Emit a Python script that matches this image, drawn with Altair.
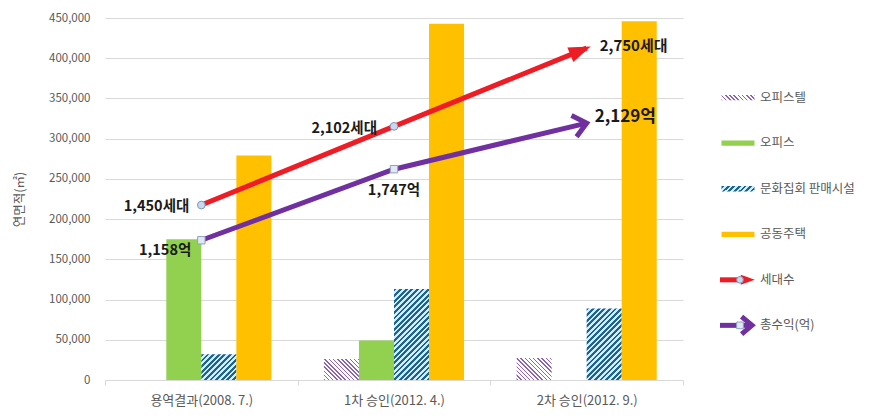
import math
import altair as alt
import pandas as pd

FONT = "Noto Sans CJK KR"

groups = ["용역결과(2008. 7.)", "1차 승인(2012. 4.)", "2차 승인(2012. 9.)"]
series = ["오피스텔", "오피스", "문화집회 판매시설", "공동주택"]
officetel = [0, 26000, 27500]
office = [175000, 49000, 0]
culture = [32000, 113000, 89000]
housing = [279000, 443000, 446000]

households = [1450, 2102, 2750]
household_labels = ["1,450세대", "2,102세대", "2,750세대"]
revenue = [1158, 1747, 2129]
revenue_labels = ["1,158억", "1,747억", "2,129억"]

legend_names = ["오피스텔", "오피스", "문화집회 판매시설", "공동주택", "세대수", "총수익(억)"]

# layout / style
W, H = 578, 362
Y_MAX, Y2_MAX = 450000, 3000
BAR_W = W / 3 / 5.5
RED, PURPLE, GREEN, YELLOW = "#ee1c25", "#7030a0", "#92d050", "#ffc000"
BLUE_LINE, BLUE_BG = "#1f6391", "#cdeefa"
HATCH_PURPLE = "#8e62b8"
GRID = "#d9d9d9"
TXT = "#595959"


def hatch(w, h, period, line, bg, frac, back=False):
    s = (w + h) / (w * w + h * h)
    n = (w + h) / period
    stops = []
    k = 0
    while k < n:
        a = k / n
        b = min((k + frac) / n, 1)
        c = min((k + 1) / n, 1)
        stops += [alt.GradientStop(offset=a, color=line), alt.GradientStop(offset=b, color=line),
                  alt.GradientStop(offset=b, color=bg), alt.GradientStop(offset=c, color=bg)]
        k += 1
    if back:
        return alt.LinearGradient(gradient="linear", stops=stops, x1=0, y1=1, x2=s * w, y2=1 - s * h)
    return alt.LinearGradient(gradient="linear", stops=stops, x1=0, y1=0, x2=s * w, y2=s * h)


def purple_hatch(w, h):
    return hatch(w, h, 4.2, HATCH_PURPLE, "#ffffff", 0.35, back=True)


def blue_hatch(w, h):
    return hatch(w, h, 5.6, BLUE_LINE, BLUE_BG, 0.5)


rows = []
for vals, s in zip([officetel, office, culture, housing], series):
    for g, v in zip(groups, vals):
        rows.append({"group": g, "series": s, "value": v})
bars = pd.DataFrame(rows)

lrows = []
for i, g in enumerate(groups):
    lrows.append({"group": g, "metric": "세대수", "val": households[i], "label": household_labels[i], "idx": i})
    lrows.append({"group": g, "metric": "총수익", "val": revenue[i], "label": revenue_labels[i], "idx": i})
lines = pd.DataFrame(lrows)

X = alt.X("group:N", sort=groups, title=None,
          scale=alt.Scale(domain=groups, paddingInner=0, paddingOuter=0),
          axis=alt.Axis(labelAngle=0, labelFontSize=13, labelColor=TXT, labelPadding=9,
                        domainColor=GRID, tickColor=GRID, tickSize=5, tickBand="extent",
                        grid=False))
XO = alt.XOffset("series:N", scale=alt.Scale(domain=series, paddingInner=0, paddingOuter=0.75))
Y = alt.Y("value:Q", title="연면적(㎡)",
          scale=alt.Scale(domain=[0, Y_MAX]),
          axis=alt.Axis(values=list(range(0, Y_MAX + 1, 50000)), format=",.0f",
                        domain=False, ticks=False, labelPadding=15, labelFontSize=11.5,
                        labelColor=TXT, gridColor=GRID, titleColor=TXT, titleFontSize=12.5,
                        titleFontWeight="normal", titlePadding=22))
Y2 = alt.Y("val:Q", scale=alt.Scale(domain=[0, Y2_MAX]), axis=None)

base = alt.Chart(bars).encode(x=X, xOffset=XO, y=Y)
bar_layers = []
for s, fill_fn in [("오피스텔", purple_hatch), ("오피스", None),
                   ("문화집회 판매시설", blue_hatch), ("공동주택", None)]:
    if fill_fn is None:
        col = GREEN if s == "오피스" else YELLOW
        bar_layers.append(base.transform_filter(alt.datum.series == s).mark_bar(fill=col))
        continue
    for g, v in bars[bars.series == s][["group", "value"]].values:
        if v <= 0:
            continue
        h = v / Y_MAX * H
        bar_layers.append(base.transform_filter((alt.datum.series == s) & (alt.datum.group == g))
                          .mark_bar(fill=fill_fn(BAR_W, h)))

STEP = W / 3
lbase = alt.Chart(lines).encode(x=X, y=Y2, order=alt.Order("idx:Q"))


def ang(vals):
    dy = (vals[2] - vals[1]) / Y2_MAX * H
    return 360 - math.degrees(math.atan2(dy, STEP))


line_layers = []
for metric, col, vals in [("세대수", RED, households), ("총수익", PURPLE, revenue)]:
    f = alt.datum.metric == metric
    line_layers.append(lbase.transform_filter(f).mark_line(color=col, strokeWidth=5))
    if metric == "세대수":
        line_layers.append(lbase.transform_filter(f & (alt.datum.idx == 2)).mark_point(
            shape="M0.4,0L-1.6,-0.72L-1.6,0.72Z", size=484, filled=True, fill=col,
            opacity=1, angle=ang(vals)))
        line_layers.append(lbase.transform_filter(f & (alt.datum.idx < 2)).mark_point(
            shape="circle", size=60, filled=True, fill="#c6d9f0", stroke="#7f98b5",
            strokeWidth=1, opacity=1))
    else:
        line_layers.append(lbase.transform_filter(f & (alt.datum.idx == 2)).mark_point(
            shape="M-1.3,-1.1L0,0L-1.3,1.1", size=400, filled=False, stroke=col,
            strokeWidth=5, opacity=1, angle=ang(vals), strokeJoin="miter"))
        line_layers.append(lbase.transform_filter(f & (alt.datum.idx < 2)).mark_point(
            shape="square", size=55, filled=True, fill="#dfe8f3", stroke="#8ea2b8",
            strokeWidth=1, opacity=1))

# per-label placement: (metric, idx, align, dx, dy, size)
label_style = [("세대수", 0, "right", -12, 2, 14.5), ("세대수", 1, "right", -17, 3, 14.5),
               ("세대수", 2, "left", 13, -2, 15), ("총수익", 0, "right", -10, 11, 14.5),
               ("총수익", 1, "center", 0, 22, 14.5), ("총수익", 2, "left", 8, -6, 17)]
for metric, i, al, dx, dy, fs in label_style:
    line_layers.append(lbase.transform_filter((alt.datum.metric == metric) & (alt.datum.idx == i))
                       .mark_text(align=al, baseline="middle", dx=dx, dy=dy, fontSize=fs,
                                  fontWeight="bold", color="#1a1a1a", font=FONT)
                       .encode(text="label:N"))

main = alt.layer(alt.layer(*bar_layers), alt.layer(*line_layers)).resolve_scale(
    y="independent").properties(width=W, height=H)

# legend panel
leg = pd.DataFrame({"name": legend_names, "idx": list(range(len(legend_names)))})
YL = alt.Y("idx:Q", scale=alt.Scale(domain=[-1.75, 6.2], reverse=True), axis=None)
lb = alt.Chart(leg).encode(y=YL)
SW = "M-1,-0.16H1V0.16H-1Z"
leg_layers = [
    lb.mark_text(align="left", baseline="middle", fontSize=12.5, color=TXT, font=FONT)
      .encode(x=alt.value(56), text="name:N"),
    lb.transform_filter(alt.datum.idx == 0).mark_point(
        shape=SW, size=1089, filled=True, fill=purple_hatch(33, 5.3), opacity=1)
      .encode(x=alt.value(34)),
    lb.transform_filter(alt.datum.idx == 1).mark_point(
        shape=SW, size=1089, filled=True, fill=GREEN, opacity=1).encode(x=alt.value(34)),
    lb.transform_filter(alt.datum.idx == 2).mark_point(
        shape=SW, size=1089, filled=True, fill=blue_hatch(33, 5.3), opacity=1)
      .encode(x=alt.value(34)),
    lb.transform_filter(alt.datum.idx == 3).mark_point(
        shape=SW, size=1089, filled=True, fill=YELLOW, opacity=1).encode(x=alt.value(34)),
    lb.transform_filter(alt.datum.idx == 4).mark_rule(color=RED, strokeWidth=5)
      .encode(x=alt.value(16), x2=alt.value(40)),
    lb.transform_filter(alt.datum.idx == 4).mark_point(
        shape="M0.4,0L-1.6,-0.72L-1.6,0.72Z", size=196, filled=True, fill=RED, opacity=1)
      .encode(x=alt.value(48)),
    lb.transform_filter(alt.datum.idx == 4).mark_point(
        shape="circle", size=45, filled=True, fill="#c6d9f0", stroke="#7f98b5",
        strokeWidth=1, opacity=1).encode(x=alt.value(36)),
    lb.transform_filter(alt.datum.idx == 5).mark_rule(color=PURPLE, strokeWidth=5)
      .encode(x=alt.value(16), x2=alt.value(47)),
    lb.transform_filter(alt.datum.idx == 5).mark_point(
        shape="M-1.3,-1.1L0,0L-1.3,1.1", size=256, filled=False, stroke=PURPLE,
        strokeWidth=5, opacity=1).encode(x=alt.value(48)),
    lb.transform_filter(alt.datum.idx == 5).mark_point(
        shape="square", size=45, filled=True, fill="#dfe8f3", stroke="#8ea2b8",
        strokeWidth=1, opacity=1).encode(x=alt.value(36)),
]
legend = alt.layer(*leg_layers).properties(width=150, height=H)

chart = alt.hconcat(main, legend, spacing=20).properties(
    padding={"left": 5, "top": 4, "right": 5, "bottom": 5}
).configure_view(stroke=None).configure_axis(labelFont=FONT, titleFont=FONT)

chart.save("out.html", embed_options={"renderer": "svg", "actions": False})
